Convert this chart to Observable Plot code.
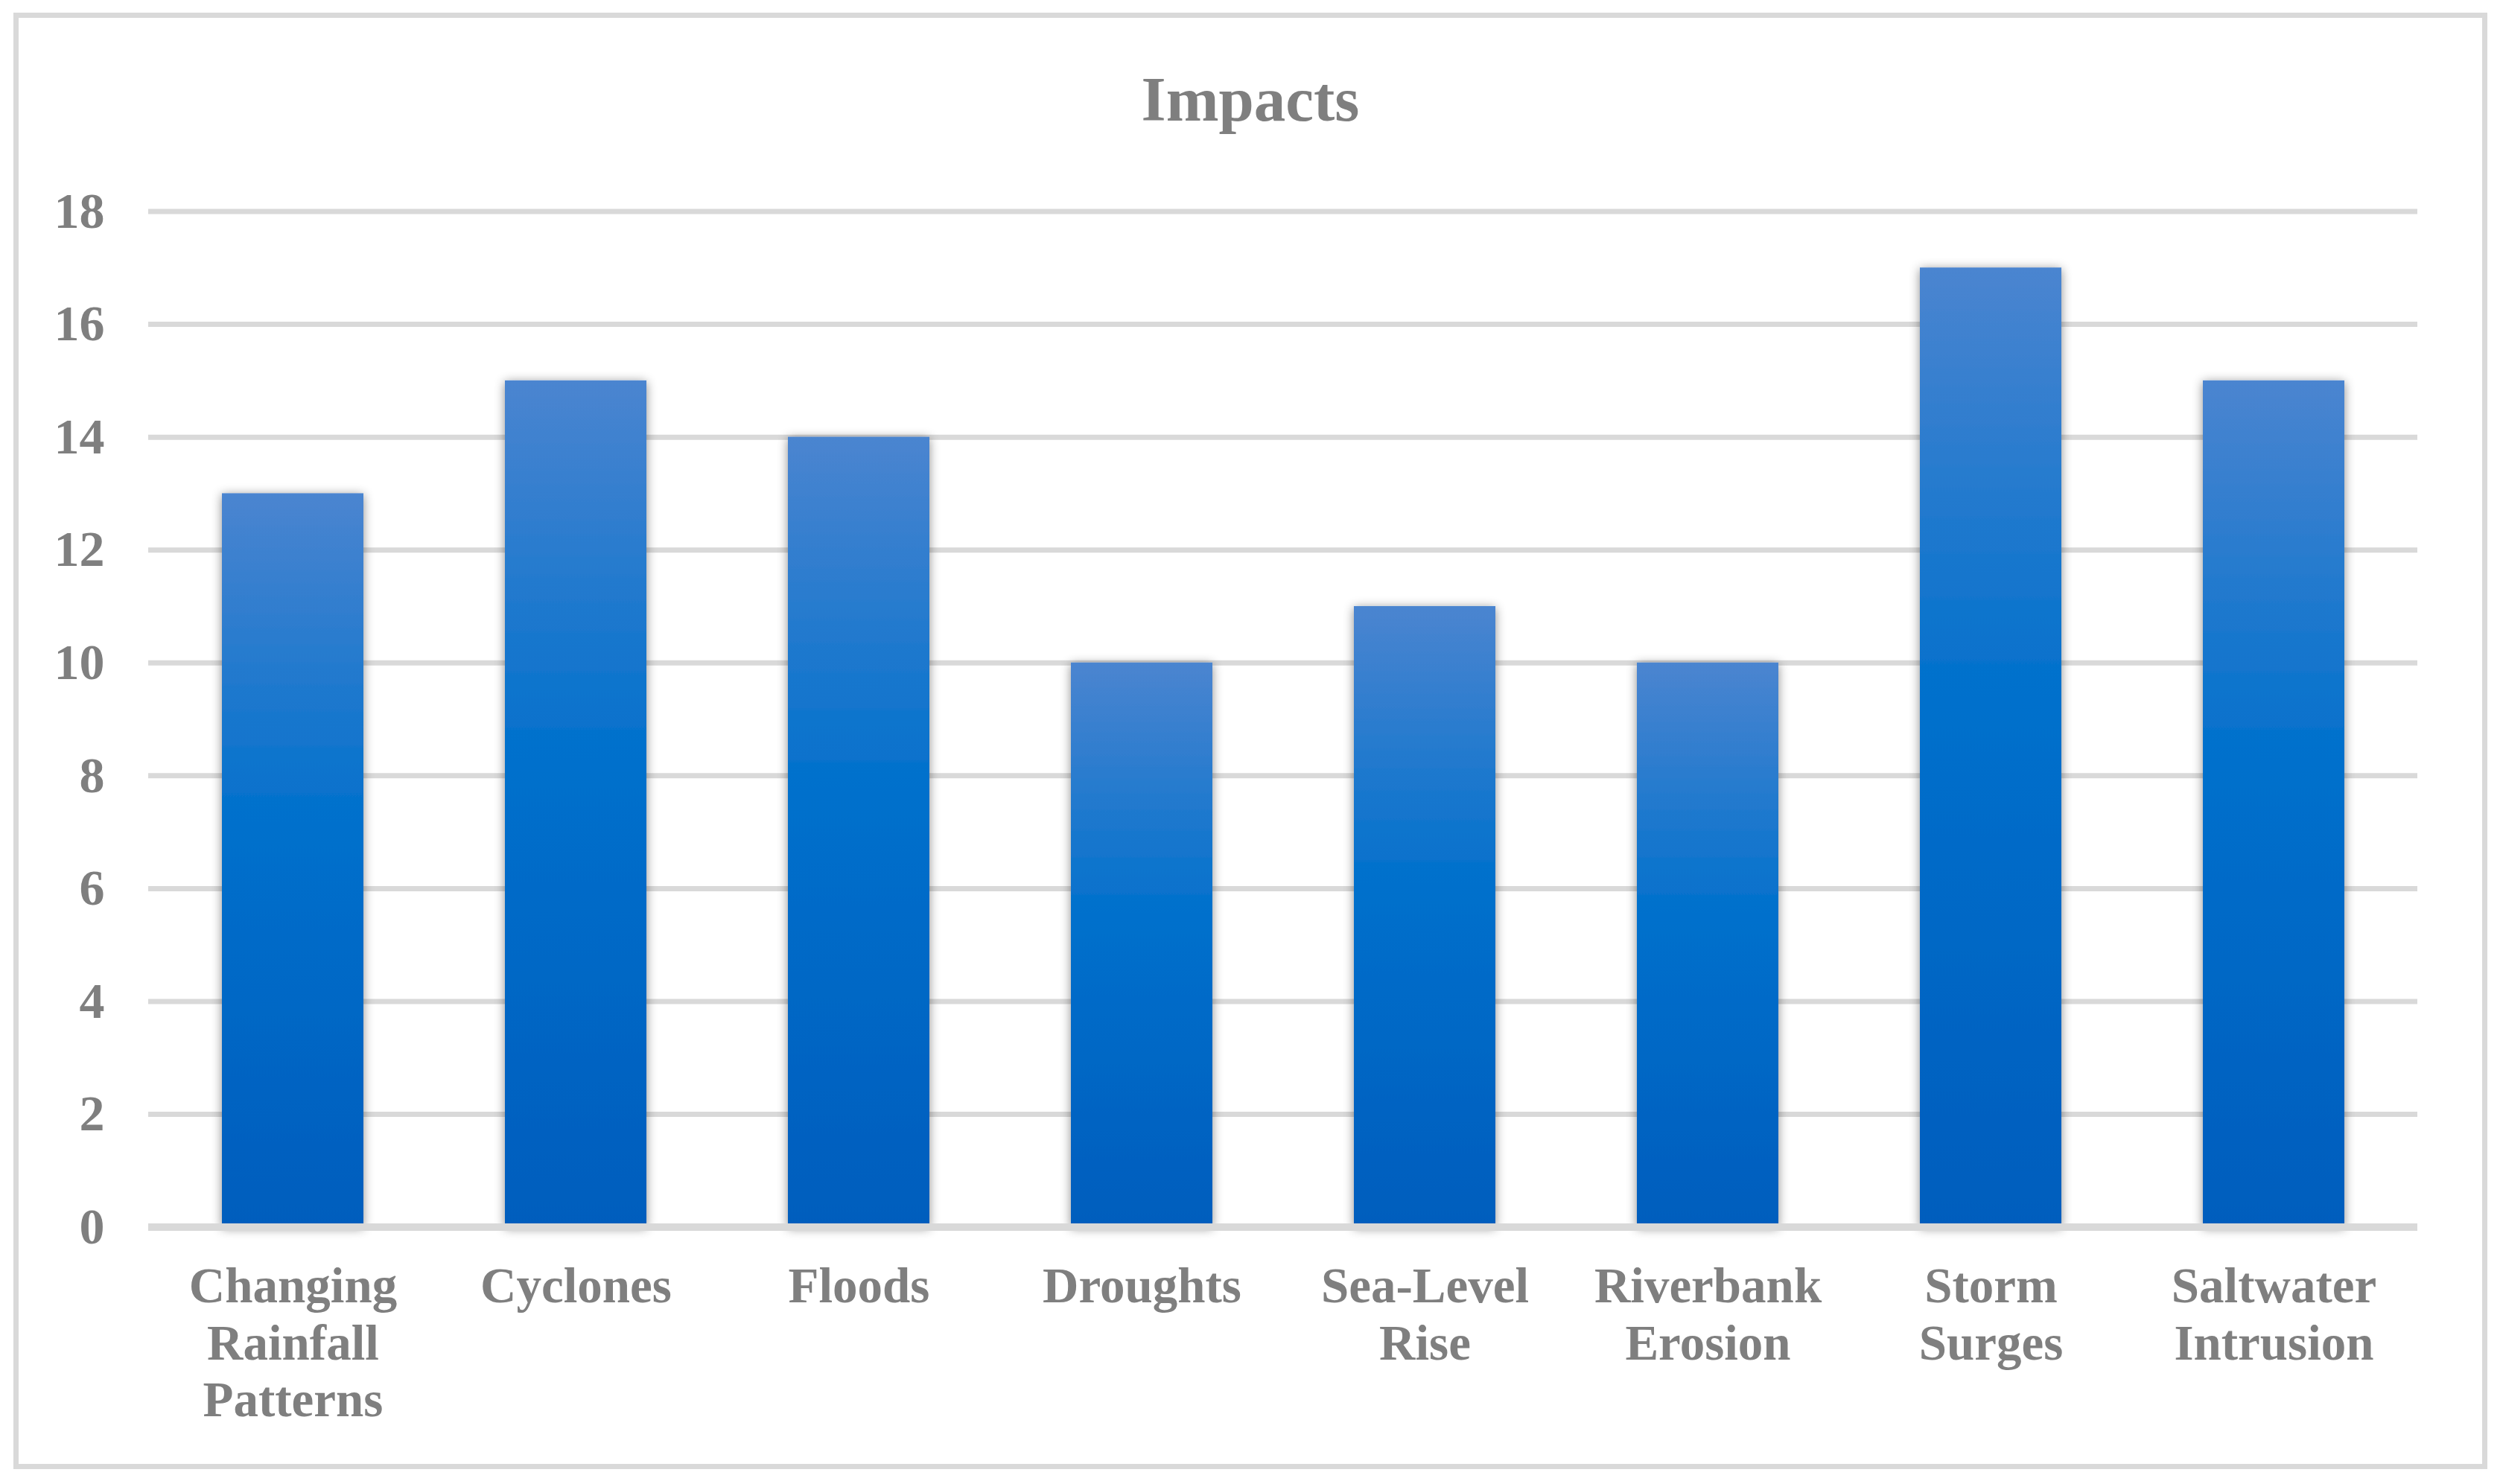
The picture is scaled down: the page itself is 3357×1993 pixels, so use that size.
<!DOCTYPE html>
<html>
<head>
<meta charset="utf-8">
<script src="https://cdn.jsdelivr.net/npm/d3@7"></script>
<script src="https://cdn.jsdelivr.net/npm/@observablehq/plot@0.6"></script>
<style>
  html, body { margin: 0; padding: 0; background: #fff; }
  #wrap { position: relative; width: 3357px; height: 1993px; overflow: hidden; background: #fff; }
  #frame { position: absolute; left: 18px; top: 17px; width: 3308px; height: 1942px; border: 7px solid #d9d9d9; box-sizing: content-box; pointer-events: none; }
  #title { position: absolute; left: 18px; width: 3322px; top: 91px; text-align: center; font-family: "Liberation Serif", "Times New Roman", serif; font-weight: bold; font-size: 85px; line-height: 1; color: #7f7f7f; z-index: 2; }
  #chart { position: absolute; left: 0; top: 0; }
</style>
</head>
<body>
<div id="wrap">
  <div id="chart"></div>
  <div id="frame"></div>
  <div id="title">Impacts</div>
</div>
<script>
const categories = ["Changing Rainfall Patterns", "Cyclones", "Floods", "Droughts", "Sea-Level Rise", "Riverbank Erosion", "Storm Surges", "Saltwater Intrusion"];
const tickLabels = ["Changing\nRainfall\nPatterns", "Cyclones", "Floods", "Droughts", "Sea-Level\nRise", "Riverbank\nErosion", "Storm\nSurges", "Saltwater\nIntrusion"];
const values = [13, 15, 14, 10, 11, 10, 17, 15];
const yTicks = [0, 2, 4, 6, 8, 10, 12, 14, 16, 18];

const data = categories.map((c, i) => ({category: c, value: values[i]}));

const svg = Plot.plot({
  width: 3357,
  height: 1993,
  marginTop: 283.5,
  marginBottom: 345.4,
  marginLeft: 199,
  marginRight: 111,
  style: {fontFamily: "'Liberation Serif', 'Times New Roman', serif", fontWeight: "bold", color: "#7f7f7f", background: "transparent"},
  x: {domain: categories, paddingInner: 0.5, paddingOuter: 0.25, label: null},
  y: {domain: [0, 18], label: null},
  marks: [
    Plot.ruleY(yTicks.filter(d => d > 0), {stroke: "#d9d9d9", strokeWidth: 7}),
    Plot.barY(data, {x: "category", y: "value", fill: "url(#barGrad)"}),
    Plot.ruleY([0], {stroke: "#d9d9d9", strokeWidth: 10}),
    Plot.axisY({ticks: yTicks, tickSize: 0, tickPadding: 59, fontSize: 68, label: null}),
    Plot.axisX({tickSize: 0, tickPadding: 47, fontSize: 67, lineHeight: 1.14, label: null,
      tickFormat: d => tickLabels[categories.indexOf(d)]})
  ]
});

const s = d3.select(svg);
const defs = s.insert("defs", ":first-child");
const g = defs.append("linearGradient").attr("id", "barGrad").attr("x1", 0).attr("y1", 0).attr("x2", 0).attr("y2", 1);
g.append("stop").attr("offset", "0%").attr("stop-color", "#4b85d0");
g.append("stop").attr("offset", "45%").attr("stop-color", "#0070cc");
g.append("stop").attr("offset", "100%").attr("stop-color", "#005dbd");
const f = defs.append("filter").attr("id", "barShadow").attr("x", "-10%").attr("y", "-10%").attr("width", "120%").attr("height", "120%");
f.append("feDropShadow").attr("dx", 0).attr("dy", 2).attr("stdDeviation", 7).attr("flood-color", "#000").attr("flood-opacity", 0.45);
s.selectAll('g[aria-label="bar"]').attr("filter", "url(#barShadow)");

document.getElementById("chart").appendChild(svg);
</script>
</body>
</html>
